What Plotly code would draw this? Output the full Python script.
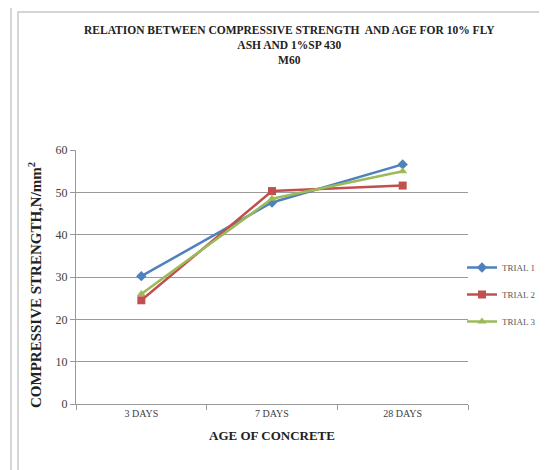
import plotly.graph_objects as go

categories = ["3 DAYS", "7 DAYS", "28 DAYS"]
trial1 = [30.2, 47.6, 56.6]
trial2 = [24.5, 50.3, 51.6]
trial3 = [26.0, 48.5, 55.0]
series_names = ["TRIAL 1", "TRIAL 2", "TRIAL 3"]
colors = ["#4F81BD", "#C0504D", "#9BBB59"]
symbols = ["diamond", "square", "triangle-up"]

W, H = 547, 470
L, R, T, B = 68, 460, 142, 396
ml, mr, mt, mb = L, W - R, T, H - B
pw, ph = R - L, B - T

def px(x):
    return (x - L) / pw

def py(y):
    return (B - y) / ph

serif = "Liberation Serif, Times New Roman, serif"

fig = go.Figure()
for name, vals, c, s in zip(series_names, [trial1, trial2, trial3], colors, symbols):
    fig.add_trace(go.Scatter(
        x=categories, y=vals, name=name, mode="lines+markers",
        line=dict(color=c, width=2.5),
        marker=dict(symbol=s, size=8, color=c),
        legendgroup=name,
    ))

fig.update_layout(
    width=W, height=H,
    margin=dict(l=ml, r=mr, t=mt, b=mb, autoexpand=False),
    paper_bgcolor="white", plot_bgcolor="white",
    font=dict(family=serif, color="#404040", size=10),
    showlegend=True,
    legend=dict(x=px(454), y=py(245), xanchor="left", yanchor="top",
                font=dict(family=serif, size=9, color="#595959"),
                tracegroupgap=8, itemwidth=30, bgcolor="rgba(0,0,0,0)"),
    xaxis=dict(type="category", range=[-0.5, 2.5], showgrid=False,
               showline=True, linecolor="#999999", linewidth=1,
               ticks="outside", ticklen=5, tickcolor="#999999",
               tickson="boundaries",
               tickfont=dict(family=serif, size=10, color="#404040"),
               title=dict(text="<b>AGE OF CONCRETE</b>", standoff=12,
                          font=dict(family=serif, size=13, color="#222222"))),
    yaxis=dict(range=[0, 60], dtick=10, showgrid=True, gridcolor="#9a9a9a",
               gridwidth=1, zeroline=False,
               showline=True, linecolor="#999999", linewidth=1,
               ticks="outside", ticklen=5, tickcolor="#999999",
               tickfont=dict(family=serif, size=12, color="#404040")),
)

fig.add_annotation(
    text="<b>COMPRESSIVE STRENGTH,N/mm<sup>2</sup></b>",
    xref="paper", yref="paper", x=px(27), y=py(277), textangle=-90,
    showarrow=False, font=dict(family=serif, size=15, color="#222222"),
    xanchor="center", yanchor="middle",
)

fig.add_annotation(
    text="<b>RELATION BETWEEN COMPRESSIVE STRENGTH  AND AGE FOR 10% FLY<br>ASH AND 1%SP 430<br>M60</b>",
    xref="paper", yref="paper", x=px(281), y=py(14), showarrow=False,
    xanchor="center", yanchor="top", align="center",
    font=dict(family=serif, size=11.5, color="#222222"),
)

# chart frame
fig.add_shape(type="rect", xref="paper", yref="paper",
              x0=px(10), x1=px(545), y0=py(467), y1=py(4),
              line=dict(color="#c8c8c8", width=1.5), layer="below")
fig.add_shape(type="line", xref="paper", yref="paper",
              x0=px(3), x1=px(3), y0=py(470), y1=py(0),
              line=dict(color="#c8c8c8", width=1.5), layer="below")

fig.write_html("out.html")
